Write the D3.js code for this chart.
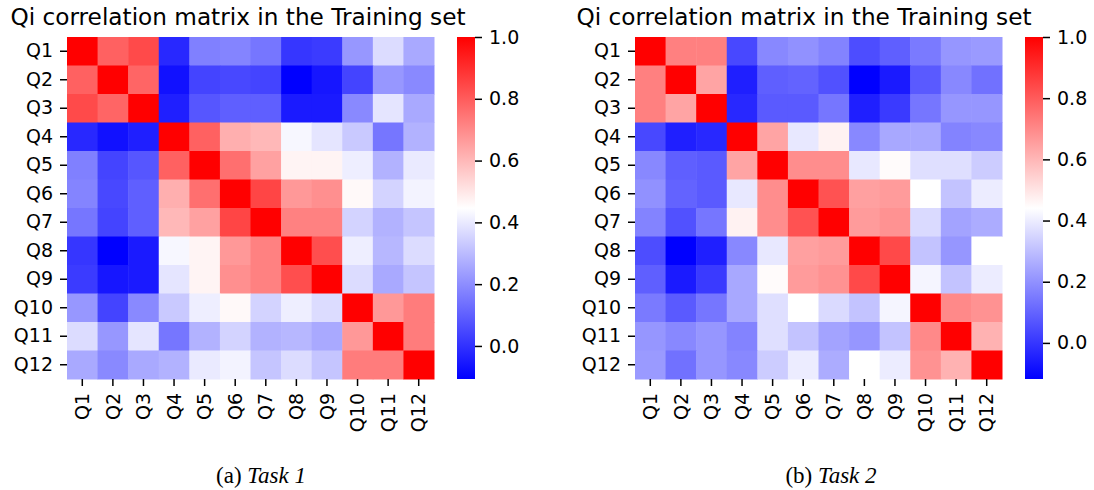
<!DOCTYPE html>
<html>
<head>
<meta charset="utf-8">
<script src="https://cdn.jsdelivr.net/npm/d3@7"></script>
<style>
  body { margin: 0; background: #fff; }
  svg text { font-family: "DejaVu Sans", sans-serif; fill: #000; }
  .caption { font-family: "Liberation Serif", serif; }
</style>
</head>
<body>
<div id="chart"></div>
<script>
// labels
var questions = ["Q1","Q2","Q3","Q4","Q5","Q6","Q7","Q8","Q9","Q10","Q11","Q12"]
var cbarTicks = [0.0, 0.2, 0.4, 0.6, 0.8, 1.0]
var titleText = "Qi correlation matrix in the Training set"

// Task 1 correlation matrix
var task1 = [
  [1.00, 0.79, 0.84, -0.02, 0.17, 0.18, 0.15, 0.01, 0.02, 0.22, 0.37, 0.26],
  [0.79, 1.00, 0.78, -0.07, 0.04, 0.05, 0.04, -0.107, -0.06, 0.04, 0.22, 0.19],
  [0.84, 0.78, 1.00, -0.04, 0.08, 0.10, 0.10, -0.05, -0.05, 0.19, 0.39, 0.26],
  [-0.02, -0.07, -0.04, 1.00, 0.79, 0.62, 0.60, 0.43, 0.39, 0.33, 0.15, 0.28],
  [0.17, 0.04, 0.08, 0.79, 1.00, 0.76, 0.65, 0.47, 0.47, 0.41, 0.28, 0.40],
  [0.18, 0.05, 0.10, 0.62, 0.76, 1.00, 0.85, 0.67, 0.69, 0.46, 0.35, 0.42],
  [0.15, 0.04, 0.10, 0.60, 0.65, 0.85, 1.00, 0.72, 0.72, 0.35, 0.28, 0.32],
  [0.01, -0.107, -0.05, 0.43, 0.47, 0.67, 0.72, 1.00, 0.83, 0.41, 0.29, 0.37],
  [0.02, -0.06, -0.05, 0.39, 0.47, 0.69, 0.72, 0.83, 1.00, 0.37, 0.26, 0.32],
  [0.22, 0.04, 0.19, 0.33, 0.41, 0.46, 0.35, 0.41, 0.37, 1.00, 0.67, 0.73],
  [0.37, 0.22, 0.39, 0.15, 0.28, 0.35, 0.28, 0.29, 0.26, 0.67, 1.00, 0.73],
  [0.26, 0.19, 0.26, 0.28, 0.40, 0.42, 0.32, 0.37, 0.32, 0.73, 0.73, 1.00]
]

// Task 2 correlation matrix
var task2 = [
  [1.00, 0.72, 0.72, 0.04, 0.18, 0.20, 0.17, 0.05, 0.09, 0.15, 0.21, 0.22],
  [0.72, 1.00, 0.64, -0.05, 0.09, 0.10, 0.06, -0.118, -0.06, 0.08, 0.18, 0.13],
  [0.72, 0.64, 1.00, -0.03, 0.08, 0.08, 0.14, -0.05, 0.01, 0.14, 0.21, 0.21],
  [0.04, -0.05, -0.03, 1.00, 0.64, 0.39, 0.47, 0.18, 0.25, 0.25, 0.17, 0.18],
  [0.18, 0.09, 0.08, 0.64, 1.00, 0.69, 0.69, 0.39, 0.45, 0.37, 0.37, 0.33],
  [0.20, 0.10, 0.08, 0.39, 0.69, 1.00, 0.82, 0.65, 0.66, 0.44, 0.31, 0.40],
  [0.17, 0.06, 0.14, 0.47, 0.69, 0.82, 1.00, 0.66, 0.68, 0.36, 0.24, 0.26],
  [0.05, -0.118, -0.05, 0.18, 0.39, 0.65, 0.66, 1.00, 0.84, 0.31, 0.21, 0.44],
  [0.09, -0.06, 0.01, 0.25, 0.45, 0.66, 0.68, 0.84, 1.00, 0.42, 0.31, 0.40],
  [0.15, 0.08, 0.14, 0.25, 0.37, 0.44, 0.36, 0.31, 0.42, 1.00, 0.70, 0.68],
  [0.21, 0.18, 0.21, 0.17, 0.37, 0.31, 0.24, 0.21, 0.31, 0.70, 1.00, 0.61],
  [0.22, 0.13, 0.21, 0.18, 0.33, 0.40, 0.26, 0.44, 0.40, 0.68, 0.61, 1.00]
]

var width = 1094, height = 490

var svg = d3.select("#chart")
  .append("svg")
  .attr("width", width)
  .attr("height", height)

var defs = svg.append("defs")

function drawPanel(id, matrix, left, cbarLeft, titleX, caption, captionItalic, captionX) {
  var top = 37, bottom = 379, right = left + 367
  var cells = []
  matrix.forEach((row, i) => row.forEach((v, j) => cells.push({ r: questions[i], c: questions[j], v: v })))

  var vmin = d3.min(cells, d => d.v)
  var vmax = d3.max(cells, d => d.v)

  // seaborn "bwr"
  var color = d3.scaleLinear()
    .domain([vmin, (vmin + vmax) / 2, vmax])
    .range(["#0000ff", "#ffffff", "#ff0000"])

  var xScale = d3.scaleBand().domain(questions).range([left, right])
  var yScale = d3.scaleBand().domain(questions).range([top, bottom])

  var g = svg.append("g").attr("class", "panel-" + id)

  g.selectAll(".cell")
    .data(cells)
    .enter()
    .append("rect")
    .attr("class", "cell")
    .attr("x", d => xScale(d.c))
    .attr("y", d => yScale(d.r))
    .attr("width", xScale.bandwidth() + 0.5)
    .attr("height", yScale.bandwidth() + 0.5)
    .attr("fill", d => color(d.v))

  // Y axis
  var yAxis = g.append("g")
    .attr("transform", `translate(${left},0)`)
    .call(d3.axisLeft(yScale).tickSize(7).tickPadding(7))
  yAxis.select(".domain").remove()
  yAxis.selectAll("line").style("stroke", "#000").style("stroke-width", 1.5)
  yAxis.selectAll("text").style("font-size", "19px").style("font-family", "DejaVu Sans")

  // X axis, rotated labels
  var xAxis = g.append("g")
    .attr("transform", `translate(0,${bottom})`)
    .call(d3.axisBottom(xScale).tickSize(7).tickPadding(7))
  xAxis.select(".domain").remove()
  xAxis.selectAll("line").style("stroke", "#000").style("stroke-width", 1.5)
  xAxis.selectAll("text")
    .style("font-size", "19px")
    .style("font-family", "DejaVu Sans")
    .attr("transform", "rotate(-90)")
    .attr("x", -14)
    .attr("y", 0)
    .attr("dy", "0.35em")
    .style("text-anchor", "end")

  // title
  g.append("text")
    .attr("x", titleX)
    .attr("y", 25)
    .attr("text-anchor", "middle")
    .style("font-size", "23.2px")
    .text(titleText)

  // colorbar
  var grad = defs.append("linearGradient")
    .attr("id", "grad-" + id)
    .attr("x1", 0).attr("y1", 1).attr("x2", 0).attr("y2", 0)
  grad.append("stop").attr("offset", "0%").attr("stop-color", color(vmin))
  grad.append("stop").attr("offset", "50%").attr("stop-color", color((vmin + vmax) / 2))
  grad.append("stop").attr("offset", "100%").attr("stop-color", color(vmax))

  g.append("rect")
    .attr("x", cbarLeft)
    .attr("y", top)
    .attr("width", 18)
    .attr("height", bottom - top)
    .attr("fill", `url(#grad-${id})`)

  var cScale = d3.scaleLinear().domain([vmin, vmax]).range([bottom, top])
  var cAxis = g.append("g")
    .attr("transform", `translate(${cbarLeft + 18},0)`)
    .call(d3.axisRight(cScale).tickValues(cbarTicks).tickFormat(d3.format(".1f")).tickSize(7).tickPadding(7))
  cAxis.select(".domain").remove()
  cAxis.selectAll("line").style("stroke", "#000").style("stroke-width", 1.5)
  cAxis.selectAll("text").style("font-size", "19px").style("font-family", "DejaVu Sans")

  // caption under the panel
  var cap = g.append("text")
    .attr("class", "caption")
    .attr("x", captionX)
    .attr("y", 483)
    .attr("text-anchor", "middle")
    .style("font-size", "23px")
  cap.append("tspan").text(caption + " ")
  cap.append("tspan").style("font-style", "italic").text(captionItalic)
}

drawPanel(1, task1, 67, 457, 238, "(a)", "Task 1", 261)
drawPanel(2, task2, 635, 1025, 804, "(b)", "Task 2", 831)
</script>
</body>
</html>
